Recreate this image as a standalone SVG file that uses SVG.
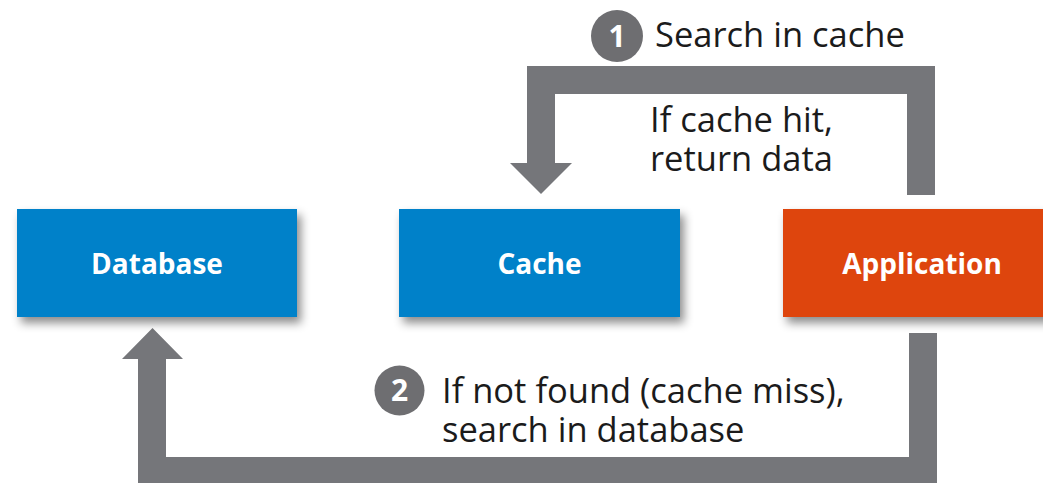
<svg xmlns="http://www.w3.org/2000/svg" width="1043" height="483" viewBox="0 0 1043 483">
  <style>
    .box-label { font-family: "Open Sans", "Liberation Sans", sans-serif; font-weight: 700; font-size: 28px; fill: #ffffff; text-anchor: middle; }
    .label { font-family: "Open Sans", "Liberation Sans", sans-serif; font-size: 34.5px; fill: #1b1b1b; }
    .num { font-family: "Open Sans", "Liberation Sans", sans-serif; font-weight: 700; font-size: 30px; fill: #ffffff; text-anchor: middle; }
    .arrow { fill: #75767a; }
    .badge { fill: #6e6e71; }
    .blue { fill: #0081c9; }
    .orange { fill: #de4409; }
  </style>
  <defs>
    <filter id="shadow" x="-20%" y="-30%" width="150%" height="170%">
      <feDropShadow dx="4" dy="6" stdDeviation="5" flood-color="#000000" flood-opacity="0.45"/>
    </filter>
  </defs>
  <rect width="1043" height="483" fill="#ffffff"/>

  <g id="connectors">
    <g id="search-cache">
      <polygon class="arrow" points="935,195 935,66 527,66 527,163 510,163 541,194 572,163 555,163 555,94 907,94 907,195"/>
      <circle class="badge" cx="617" cy="36" r="26"/>
      <text class="num" x="617" y="47">1</text>
      <text class="label" x="655" y="47">Search in cache</text>
      <text class="label" x="650" y="132">If cache hit,</text>
      <text class="label" x="650" y="171">return data</text>
    </g>
    <g id="search-database">
      <polygon class="arrow" points="937,333 937,485 138,485 138,359 122,359 152.5,328 183,359 166,359 166,457 909,457 909,333"/>
      <circle class="badge" cx="399.5" cy="390.5" r="25"/>
      <text class="num" x="399.5" y="401">2</text>
      <text class="label" x="442" y="403">If not found (cache miss),</text>
      <text class="label" x="442" y="442">search in database</text>
    </g>
  </g>

  <g id="database">
    <rect class="blue" x="17" y="209" width="280" height="108" filter="url(#shadow)"/>
    <text class="box-label" x="157" y="274">Database</text>
  </g>
  <g id="cache">
    <rect class="blue" x="399" y="209" width="281" height="108" filter="url(#shadow)"/>
    <text class="box-label" x="539.5" y="274">Cache</text>
  </g>
  <g id="application">
    <rect class="orange" x="783" y="209" width="280" height="108" filter="url(#shadow)"/>
    <text class="box-label" x="922" y="274">Application</text>
  </g>
</svg>
